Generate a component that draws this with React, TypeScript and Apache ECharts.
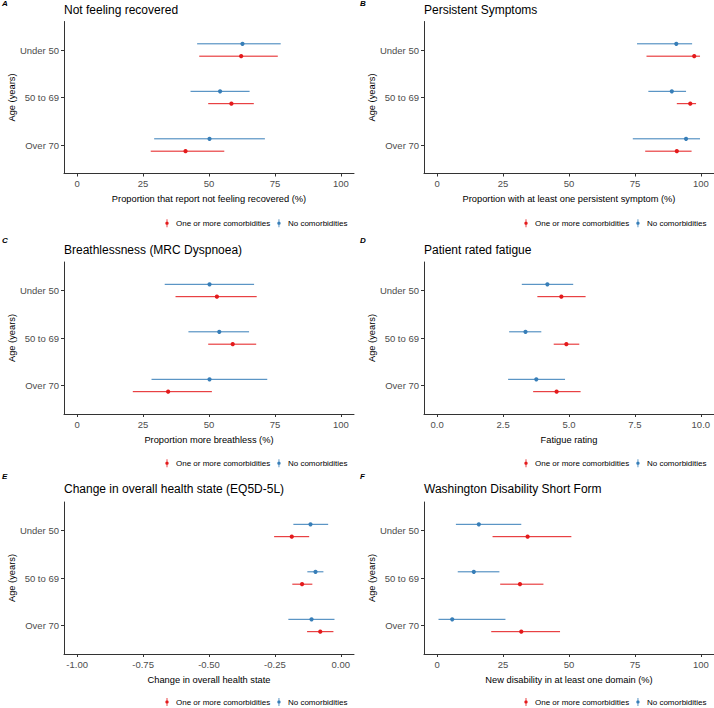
import React, { useEffect, useRef } from "react";
import * as echarts from "echarts";

// ---- categories / labels ----
const ageGroups = ["Under 50", "50 to 69", "Over 70"];
const seriesNames = ["One or more comorbidities", "No comorbidities"];
const pctTicks = [0, 25, 50, 75, 100];
const fatigueTicks = [0, 2.5, 5, 7.5, 10];
const eqTicks = [-1, -0.75, -0.5, -0.25, 0];

// ---- values: [estimate, lower, upper] per age group ----
const notRecoveredComorb = [[62.2, 46.3, 76.1], [58.5, 49.7, 67.0], [41.1, 27.9, 55.8]];
const notRecoveredNone = [[62.7, 45.5, 77.2], [54.2, 43.0, 65.4], [50.2, 29.2, 71.2]];

const persistentComorb = [[97.5, 79.4, 99.7], [96.0, 90.9, 98.2], [90.9, 78.9, 96.5]];
const persistentNone = [[90.7, 75.8, 96.7], [89.0, 80.1, 94.4], [94.4, 74.2, 99.7]];

const breathlessComorb = [[53.0, 37.3, 68.1], [59.0, 49.7, 67.9], [34.5, 21.1, 51.1]];
const breathlessNone = [[50.2, 33.2, 67.1], [53.9, 42.2, 65.2], [50.2, 28.2, 72.1]];

const fatigueComorb = [[4.71, 3.8, 5.63], [4.9, 4.42, 5.39], [4.53, 3.64, 5.44]];
const fatigueNone = [[4.18, 3.21, 5.16], [3.35, 2.73, 3.95], [3.76, 2.69, 4.85]];

const eqComorb = [[-0.186, -0.253, -0.12], [-0.147, -0.184, -0.108], [-0.078, -0.128, -0.028]];
const eqNone = [[-0.115, -0.18, -0.048], [-0.096, -0.127, -0.066], [-0.111, -0.199, -0.024]];

const disabilityComorb = [[34.3, 21.0, 50.9], [31.4, 23.9, 40.3], [31.9, 20.5, 46.6]];
const disabilityNone = [[15.8, 7.1, 31.9], [13.9, 7.8, 23.6], [5.7, 0.5, 25.9]];

const panels = [
  { letter: "A", title: "Not feeling recovered", xName: "Proportion that report not feeling recovered (%)", ticks: pctTicks, range: [-5, 105], dec: 0, comorb: notRecoveredComorb, none: notRecoveredNone },
  { letter: "B", title: "Persistent Symptoms", xName: "Proportion with at least one persistent symptom (%)", ticks: pctTicks, range: [-5, 105], dec: 0, comorb: persistentComorb, none: persistentNone },
  { letter: "C", title: "Breathlessness (MRC Dyspnoea)", xName: "Proportion more breathless (%)", ticks: pctTicks, range: [-5, 105], dec: 0, comorb: breathlessComorb, none: breathlessNone },
  { letter: "D", title: "Patient rated fatigue", xName: "Fatigue rating", ticks: fatigueTicks, range: [-0.5, 10.5], dec: 1, comorb: fatigueComorb, none: fatigueNone },
  { letter: "E", title: "Change in overall health state (EQ5D-5L)", xName: "Change in overall health state", ticks: eqTicks, range: [-1.05, 0.05], dec: 2, comorb: eqComorb, none: eqNone },
  { letter: "F", title: "Washington Disability Short Form", xName: "New disability in at least one domain (%)", ticks: pctTicks, range: [-5, 105], dec: 0, comorb: disabilityComorb, none: disabilityNone },
];

// ---- layout ----
const colLeft = [64, 424];
const gridWidth = 290;
const rowTop = [21.5, 262, 502];
const gridHeight = 152;
const titleCenter = [10, 250, 489.3];
const legendCenter = [224.3, 464.3, 703];
const letterCenter = [4, 241, 477.3];
const legendLeft = [165.3, 524.3];
const letterLeft = [2, 360];
const dodge = 0.13;

const RED = "#E41A1C";
const BLUE = "#377EB8";
const FONT = "'Liberation Sans', Arial, Helvetica, sans-serif";
const legendIcon = "path://M1.3,0 h0.8 v8 h-0.8 z M1.7,2.3 a1.7,1.7 0 1 1 0,3.4 a1.7,1.7 0 1 1 0,-3.4 z";

function buildOption() {
  const grid: any[] = [];
  const xAxis: any[] = [];
  const yAxis: any[] = [];
  const series: any[] = [];
  const title: any[] = [];
  const legend: any[] = [];
  const graphic: any[] = [];

  panels.forEach((p, i) => {
    const col = i % 2;
    const row = Math.floor(i / 2);
    grid.push({ left: colLeft[col], top: rowTop[row], width: gridWidth, height: gridHeight, containLabel: false });
    xAxis.push({
      type: "value",
      gridIndex: i,
      min: p.range[0],
      max: p.range[1],
      name: p.xName,
      nameLocation: "middle",
      nameGap: 21,
      nameTextStyle: { color: "#000", fontSize: 9.3, fontFamily: FONT },
      axisLine: { show: true, onZero: false, lineStyle: { color: "#333", width: 1 } },
      axisTick: { show: true, length: 3, lineStyle: { color: "#333" }, customValues: p.ticks },
      axisLabel: {
        customValues: p.ticks,
        margin: 5,
        color: "#4D4D4D",
        fontSize: 9.5,
        fontFamily: FONT,
        formatter: (v: number) => (p.dec === 0 ? String(Math.round(v)) : v.toFixed(p.dec)),
      },
      splitLine: { show: false },
    });
    yAxis.push({
      type: "value",
      gridIndex: i,
      inverse: true,
      min: 0.4,
      max: 3.6,
      name: "Age (years)",
      nameLocation: "middle",
      nameRotate: 90,
      nameGap: 48,
      nameTextStyle: { color: "#000", fontSize: 9.3, fontFamily: FONT },
      axisLine: { show: true, onZero: false, lineStyle: { color: "#333", width: 1 } },
      axisTick: { show: true, length: 3, lineStyle: { color: "#333" }, customValues: [1, 2, 3] },
      axisLabel: {
        customValues: [1, 2, 3],
        margin: 5,
        color: "#4D4D4D",
        fontSize: 9.5,
        fontFamily: FONT,
        formatter: (v: number) => ageGroups[Math.round(v) - 1] ?? "",
      },
      splitLine: { show: false },
    });

    const groups = [
      { name: seriesNames[0], color: RED, vals: p.comorb, off: dodge },
      { name: seriesNames[1], color: BLUE, vals: p.none, off: -dodge },
    ];
    groups.forEach((g) => {
      series.push({
        type: "custom",
        name: g.name,
        xAxisIndex: i,
        yAxisIndex: i,
        itemStyle: { color: g.color },
        encode: { x: [0, 1, 2], y: 3 },
        data: g.vals.map((v, k) => [v[0], v[1], v[2], k + 1 + g.off]),
        renderItem: (params: any, api: any) => {
          const y = api.value(3);
          const a = api.coord([api.value(1), y]);
          const b = api.coord([api.value(2), y]);
          const c = api.coord([api.value(0), y]);
          return {
            type: "group",
            children: [
              { type: "line", shape: { x1: a[0], y1: a[1], x2: b[0], y2: b[1] }, style: { stroke: g.color, lineWidth: 1 } },
              { type: "circle", shape: { cx: c[0], cy: c[1], r: 2.1 }, style: { fill: g.color } },
            ],
          };
        },
      });
    });

    title.push({
      text: p.title,
      left: colLeft[col],
      top: titleCenter[row] - 6.5,
      padding: 0,
      textStyle: { fontSize: 12, fontWeight: "normal", color: "#000", fontFamily: FONT },
    });

    legend.push({
      data: seriesNames,
      left: legendLeft[col],
      top: legendCenter[row] - 5,
      padding: 0,
      orient: "horizontal",
      icon: legendIcon,
      itemWidth: 8,
      itemHeight: 8,
      itemGap: 7,
      selectedMode: false,
      textStyle: { fontSize: 8, color: "#000", fontFamily: FONT },
    });

    graphic.push({
      type: "text",
      left: letterLeft[col],
      top: letterCenter[row] - 4.5,
      style: { text: p.letter, fontSize: 8, fontWeight: "bold", fontStyle: "italic", fill: "#000", fontFamily: FONT },
    });
  });

  return { animation: false, backgroundColor: "#fff", grid, xAxis, yAxis, series, title, legend, graphic };
}

export default function App() {
  const ref = useRef<HTMLDivElement>(null);
  useEffect(() => {
    document.body.style.margin = "0";
    if (!ref.current) return;
    const chart = echarts.init(ref.current, undefined, { renderer: "svg" });
    chart.setOption(buildOption());
    return () => chart.dispose();
  }, []);
  return <div ref={ref} style={{ width: 714, height: 708, position: "absolute", left: 0, top: 0 }} />;
}
